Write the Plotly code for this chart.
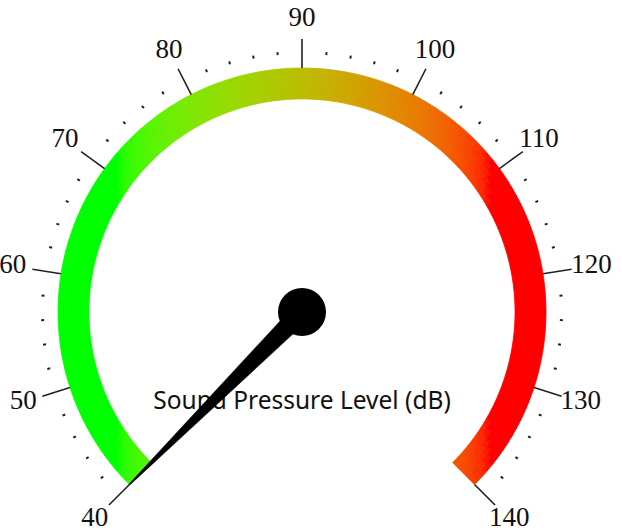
import math

import plotly.graph_objects as go

# ── gauge data ──────────────────────────────────────────────────────────────
RANGE_MIN = 40
RANGE_MAX = 140
MAJOR_TICKS = [40, 50, 60, 70, 80, 90, 100, 110, 120, 130, 140]
TICK_LABELS = ["40", "50", "60", "70", "80", "90", "100", "110", "120", "130", "140"]
MINOR_STEP = 2
NEEDLE_VALUE = 40
TITLE = "Sound Pressure Level (dB)"
GRADIENT_START = (0.0, 1.0, 0.0)   # lime (linear light)
GRADIENT_END = (1.0, 0.0, 0.0)     # red  (linear light)

# ── geometry (1 unit = 1 px, origin at the dial centre) ──────────────────────
START_ANGLE = 225.0
SWEEP = 270.0
R_IN, R_OUT = 213, 244
GRAD_X0, GRAD_X1 = -185, 188


def angle_of(v):
    return math.radians(START_ANGLE - (v - RANGE_MIN) / (RANGE_MAX - RANGE_MIN) * SWEEP)


def polar(r, a):
    return r * math.cos(a), r * math.sin(a)


def to_srgb(c):
    c = min(max(c, 0.0), 1.0)
    if c <= 0.0031308:
        return 12.92 * c
    return 1.055 * c ** (1 / 2.4) - 0.055


def grad_color(x):
    t = min(max((x - GRAD_X0) / (GRAD_X1 - GRAD_X0), 0.0), 1.0)
    t = round(t * 150) / 150
    rgb = [to_srgb(a + (b - a) * t) for a, b in zip(GRADIENT_START, GRADIENT_END)]
    return "rgb({},{},{})".format(*[int(round(c * 255)) for c in rgb])


fig = go.Figure()

# coloured band: small annular pieces grouped by colour
groups = {}
n_ang = 360
n_rad = 6
radii = [R_IN + (R_OUT - R_IN) * k / n_rad for k in range(n_rad + 1)]
for i in range(n_ang):
    v0 = RANGE_MIN + (RANGE_MAX - RANGE_MIN) * i / n_ang
    v1 = RANGE_MIN + (RANGE_MAX - RANGE_MIN) * (i + 1) / n_ang
    a0, a1 = angle_of(v0), angle_of(v1)
    for r0, r1 in zip(radii[:-1], radii[1:]):
        pts = [polar(r0, a0), polar(r1, a0), polar(r1, a1), polar(r0, a1)]
        cx = sum(p[0] for p in pts) / 4
        col = grad_color(cx)
        xs, ys = groups.setdefault(col, ([], []))
        xs.extend([p[0] for p in pts] + [pts[0][0], None])
        ys.extend([p[1] for p in pts] + [pts[0][1], None])

for col, (xs, ys) in groups.items():
    fig.add_trace(go.Scatter(
        x=xs, y=ys, mode="lines", fill="toself",
        fillcolor=col, line=dict(color=col, width=0.7),
        hoverinfo="skip", showlegend=False,
    ))

# major ticks
tx, ty = [], []
for v in MAJOR_TICKS:
    a = angle_of(v)
    for r in (R_OUT, 273):
        x, y = polar(r, a)
        tx.append(x)
        ty.append(y)
    tx.append(None)
    ty.append(None)
fig.add_trace(go.Scatter(x=tx, y=ty, mode="lines",
                         line=dict(color="#222222", width=1.6),
                         hoverinfo="skip", showlegend=False))

# minor ticks
mx, my = [], []
for v in range(RANGE_MIN, RANGE_MAX, MINOR_STEP):
    if v in MAJOR_TICKS:
        continue
    a = angle_of(v)
    for r in (258, 261):
        x, y = polar(r, a)
        mx.append(x)
        my.append(y)
    mx.append(None)
    my.append(None)
fig.add_trace(go.Scatter(x=mx, y=my, mode="lines",
                         line=dict(color="#222222", width=2),
                         hoverinfo="skip", showlegend=False))

# tick labels
lab = [polar(293, angle_of(v)) for v in MAJOR_TICKS]
fig.add_trace(go.Scatter(
    x=[p[0] for p in lab], y=[p[1] for p in lab],
    mode="text", text=TICK_LABELS, textposition="middle center",
    textfont=dict(family="Liberation Serif", size=27, color="#111111"),
    hoverinfo="skip", showlegend=False,
))

# title (drawn before the needle so the needle covers it)
fig.add_trace(go.Scatter(
    x=[0], y=[-91], mode="text", text=[TITLE], textposition="middle center",
    textfont=dict(family="Noto Sans", size=24.5, color="#111111"),
    hoverinfo="skip", showlegend=False,
))

# needle
a = angle_of(NEEDLE_VALUE)
perp = a + math.pi / 2
base_hw, tip_hw = 10, 0.6
nx = [base_hw * math.cos(perp), R_OUT * math.cos(a) + tip_hw * math.cos(perp),
      R_OUT * math.cos(a) - tip_hw * math.cos(perp), -base_hw * math.cos(perp)]
ny = [base_hw * math.sin(perp), R_OUT * math.sin(a) + tip_hw * math.sin(perp),
      R_OUT * math.sin(a) - tip_hw * math.sin(perp), -base_hw * math.sin(perp)]
fig.add_trace(go.Scatter(x=nx + [nx[0]], y=ny + [ny[0]], mode="lines", fill="toself",
                         fillcolor="black", line=dict(color="black", width=0.5),
                         hoverinfo="skip", showlegend=False))

# hub
fig.add_trace(go.Scatter(x=[0], y=[0], mode="markers",
                         marker=dict(size=48, color="black", line=dict(width=0)),
                         hoverinfo="skip", showlegend=False))

fig.update_layout(
    width=622, height=532,
    margin=dict(l=0, r=0, t=0, b=0),
    paper_bgcolor="white", plot_bgcolor="white",
    xaxis=dict(range=[-302, 320], visible=False, fixedrange=True),
    yaxis=dict(range=[-220, 312], visible=False, fixedrange=True),
    showlegend=False,
    hovermode=False,
)

# page body has an 8px default margin; drop it so the figure sits at 0,0
fig.write_html("out.html", config={"displayModeBar": False},
               post_script="document.body.style.margin='0px';")
